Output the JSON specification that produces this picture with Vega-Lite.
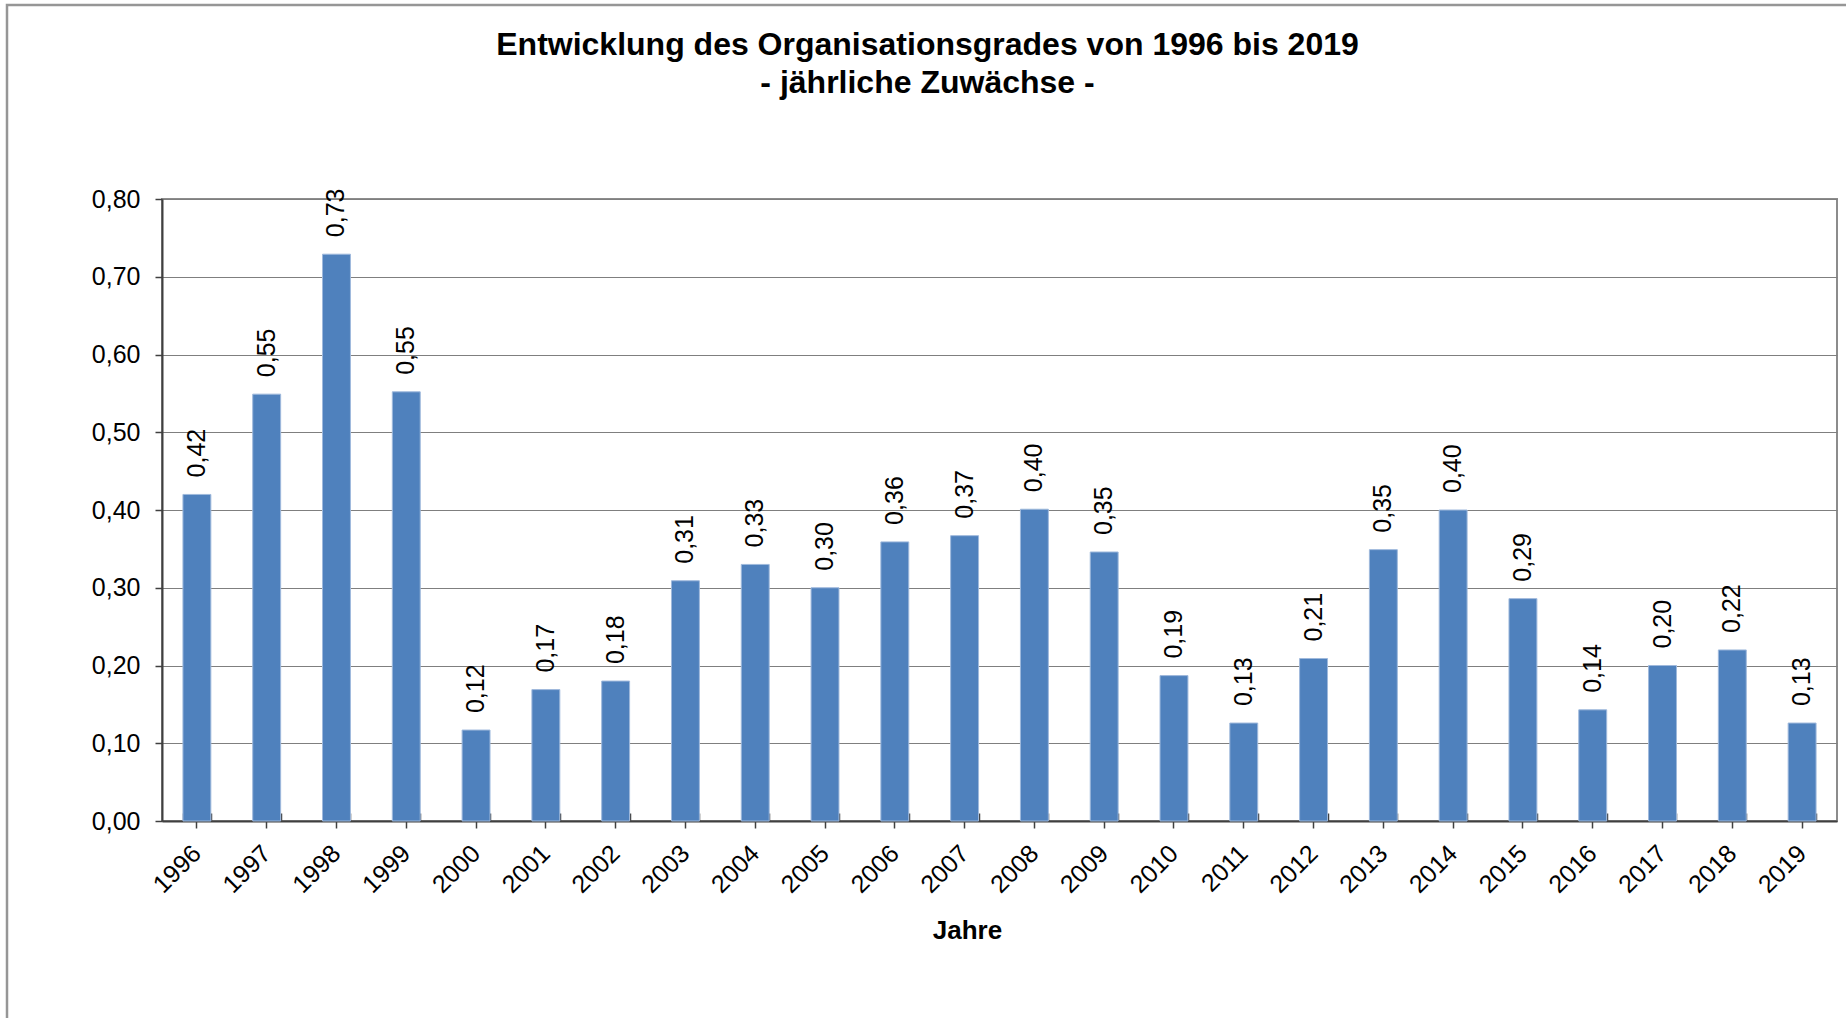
{
  "$schema": "https://vega.github.io/schema/vega-lite/v6.json",
  "width": 1675,
  "height": 622,
  "autosize": {"type": "none"},
  "padding": {"left": 162, "top": 199, "right": 9, "bottom": 197},
  "background": "white",
  "title": {
    "text": ["Entwicklung des Organisationsgrades von 1996 bis 2019", "- jährliche Zuwächse -"],
    "font": "Liberation Sans",
    "fontSize": 32,
    "fontWeight": "bold",
    "color": "black",
    "lineHeight": 38,
    "anchor": "middle",
    "dx": -72,
    "offset": 0,
    "dy": 96
  },
  "data": {
    "values": [
      {"Jahr": "1996", "Wert": 0.42},
      {"Jahr": "1997", "Wert": 0.549},
      {"Jahr": "1998", "Wert": 0.729},
      {"Jahr": "1999", "Wert": 0.552},
      {"Jahr": "2000", "Wert": 0.117},
      {"Jahr": "2001", "Wert": 0.169},
      {"Jahr": "2002", "Wert": 0.18},
      {"Jahr": "2003", "Wert": 0.309},
      {"Jahr": "2004", "Wert": 0.33},
      {"Jahr": "2005", "Wert": 0.3},
      {"Jahr": "2006", "Wert": 0.359},
      {"Jahr": "2007", "Wert": 0.367},
      {"Jahr": "2008", "Wert": 0.401},
      {"Jahr": "2009", "Wert": 0.346},
      {"Jahr": "2010", "Wert": 0.187},
      {"Jahr": "2011", "Wert": 0.126},
      {"Jahr": "2012", "Wert": 0.209},
      {"Jahr": "2013", "Wert": 0.349},
      {"Jahr": "2014", "Wert": 0.4},
      {"Jahr": "2015", "Wert": 0.286},
      {"Jahr": "2016", "Wert": 0.143},
      {"Jahr": "2017", "Wert": 0.2},
      {"Jahr": "2018", "Wert": 0.22},
      {"Jahr": "2019", "Wert": 0.126}
    ]
  },
  "resolve": {"axis": {"x": "independent"}},
  "layer": [
    {
      "mark": {"type": "bar", "color": "#4F81BD", "stroke": "#9fb9dc", "strokeWidth": 1},
      "encoding": {
        "x": {
          "field": "Jahr",
          "type": "nominal",
          "sort": null,
          "scale": {"paddingInner": 0.6, "paddingOuter": 0.3},
          "axis": {
            "orient": "bottom",
            "labelAngle": -45,
            "labelAlign": "right",
            "labelBaseline": "middle",
            "labelPadding": 21,
            "labelFont": "Liberation Sans",
            "labelFontSize": 25,
            "labelColor": "black",
            "tickSize": 7,
            "tickColor": "#404040",
            "tickWidth": 1.5,
            "domainColor": "#404040",
            "domainWidth": 2,
            "grid": false,
            "title": "Jahre",
            "titleFont": "Liberation Sans",
            "titleFontSize": 26,
            "titleFontWeight": "bold",
            "titleColor": "black",
            "titleX": 805,
            "titleY": 117,
            "titleAlign": "center",
            "titleBaseline": "alphabetic"
          }
        },
        "y": {
          "field": "Wert",
          "type": "quantitative",
          "scale": {"domain": [0, 0.8], "nice": false},
          "axis": {
            "values": [0, 0.1, 0.2, 0.3, 0.4, 0.5, 0.6, 0.7, 0.8],
            "format": ".2f",
            "labelFont": "Liberation Sans",
            "labelFontSize": 25,
            "labelColor": "black",
            "labelPadding": 15,
            "tickSize": 7,
            "tickColor": "#404040",
            "tickWidth": 1.5,
            "domainColor": "#404040",
            "domainWidth": 2,
            "grid": true,
            "gridColor": "#7f7f7f",
            "gridWidth": 1.2,
            "title": null
          }
        }
      }
    },
    {
      "mark": {"type": "text", "angle": 270, "align": "left", "baseline": "middle", "dx": 17, "font": "Liberation Sans", "fontSize": 25, "color": "black"},
      "encoding": {
        "x": {
          "field": "Jahr",
          "type": "nominal",
          "sort": null,
          "axis": {
            "orient": "bottom",
            "tickBand": "extent",
            "tickSize": -8,
            "tickColor": "#404040",
            "tickWidth": 1.5,
            "labels": false,
            "domain": false,
            "grid": false,
            "title": null
          }
        },
        "y": {"field": "Wert", "type": "quantitative"},
        "text": {"field": "Wert", "type": "quantitative", "format": ".2f"}
      }
    },
    {
      "mark": {"type": "point", "opacity": 0},
      "encoding": {
        "x": {"field": "Jahr", "type": "nominal", "sort": null, "axis": null},
        "y": {"field": "Wert", "type": "quantitative"},
        "color": {
          "field": "Wert",
          "type": "quantitative",
          "scale": {"range": ["rgba(255,255,255,0)", "rgba(255,255,255,0)"]},
          "legend": {
            "orient": "none",
            "legendX": -155,
            "legendY": -194,
            "direction": "horizontal",
            "gradientLength": 1900,
            "gradientThickness": 1100,
            "gradientStrokeWidth": 0,
            "labels": false,
            "title": null,
            "padding": 0,
            "strokeColor": "#969696",
            "encode": {"legend": {"update": {"strokeWidth": {"value": 2.5}}}}
          }
        }
      }
    }
  ],
  "config": {
    "locale": {"number": {"decimal": ",", "thousands": ".", "grouping": [3], "currency": ["", " €"]}},
    "font": "Liberation Sans",
    "view": {"stroke": "#8c8c8c", "strokeWidth": 2}
  }
}
